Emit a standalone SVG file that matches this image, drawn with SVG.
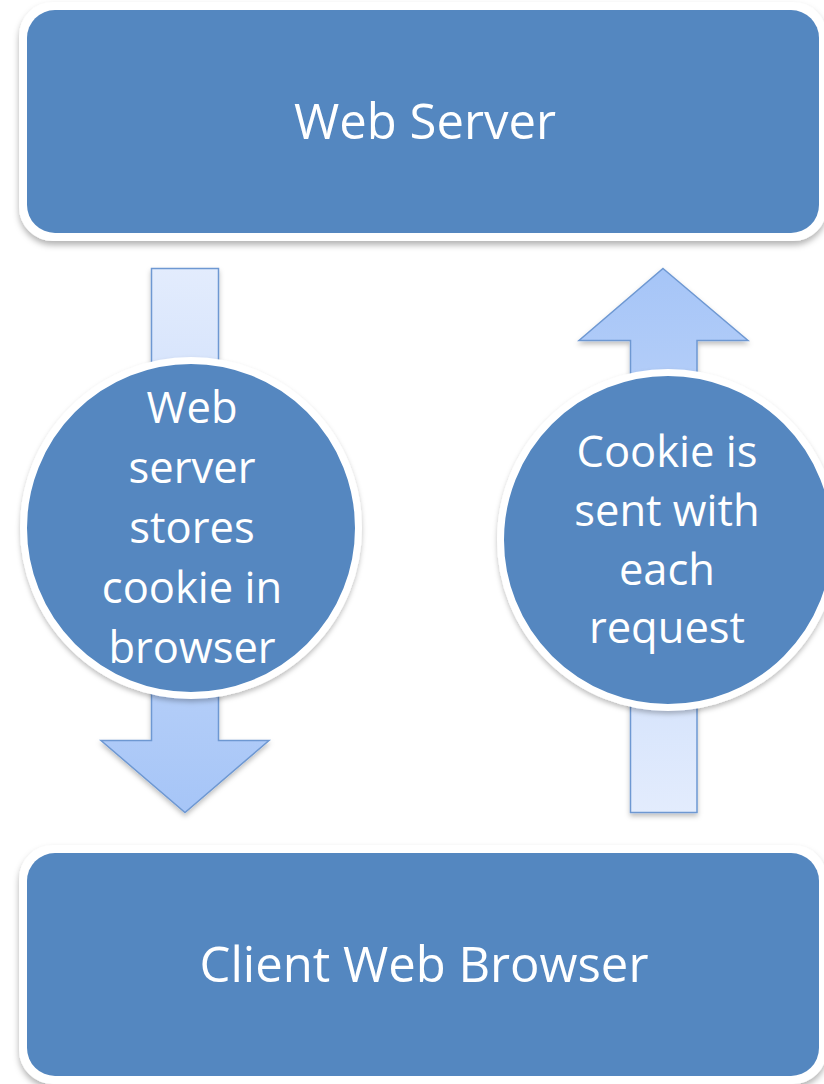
<svg xmlns="http://www.w3.org/2000/svg" width="824" height="1084" viewBox="0 0 824 1084">
  <defs>
    <style>
      .frame { fill: #ffffff; }
      .panel { fill: #5487c0; }
      .label { font-family: "Open Sans", "Noto Sans", "Liberation Sans", sans-serif; fill: #ffffff; text-anchor: middle; }
      .big { font-size: 49px; }
      .small { font-size: 43.5px; }
      .ring { fill: #5487c0; stroke: #ffffff; stroke-width: 7; }
      .arrow { stroke: #6e98d2; stroke-width: 1.5; stroke-linejoin: miter; }
    </style>
    <filter id="shadow" x="-10%" y="-10%" width="120%" height="130%">
      <feDropShadow dx="0" dy="4" stdDeviation="3" flood-color="#000000" flood-opacity="0.3"/>
    </filter>
    <filter id="softShadow" x="-20%" y="-10%" width="140%" height="130%">
      <feDropShadow dx="0" dy="3" stdDeviation="2.5" flood-color="#000000" flood-opacity="0.25"/>
    </filter>
    <!-- pale at the tail, stronger blue at the head -->
    <linearGradient id="downFill" gradientUnits="userSpaceOnUse" x1="0" y1="268" x2="0" y2="812">
      <stop offset="0" stop-color="#e3ecfd"/>
      <stop offset="1" stop-color="#a6c5f7"/>
    </linearGradient>
    <linearGradient id="upFill" gradientUnits="userSpaceOnUse" x1="0" y1="812" x2="0" y2="268">
      <stop offset="0" stop-color="#e3ecfd"/>
      <stop offset="1" stop-color="#a6c5f7"/>
    </linearGradient>
  </defs>

  <rect width="824" height="1084" fill="#ffffff"/>

  <!-- flow arrows -->
  <g id="connectors">
    <path id="arrow-down" class="arrow" fill="url(#downFill)" filter="url(#softShadow)"
          d="M151.5 268.5 H218.5 V740.5 H269 L185 812.5 L101 740.5 H151.5 Z"/>
    <path id="arrow-up" class="arrow" fill="url(#upFill)" filter="url(#softShadow)"
          d="M663 268.5 L748 340.5 H697 V812.5 H630.5 V340.5 H579 Z"/>
  </g>

  <!-- server box -->
  <g id="web-server">
    <rect class="frame" x="19" y="2" width="808" height="239" rx="34" filter="url(#shadow)"/>
    <rect class="panel" x="27" y="10" width="792" height="223" rx="28"/>
    <text class="label big" x="425" y="139">Web Server</text>
  </g>

  <!-- client box -->
  <g id="client-browser">
    <rect class="frame" x="19" y="845" width="808" height="239" rx="34" filter="url(#shadow)"/>
    <rect class="panel" x="27" y="853" width="792" height="223" rx="28"/>
    <text class="label big" x="424" y="982">Client Web Browser</text>
  </g>

  <!-- response step -->
  <g id="store-cookie">
    <circle class="ring" cx="191" cy="528" r="167.5" filter="url(#softShadow)"/>
    <text class="label small" x="192" y="423">Web</text>
    <text class="label small" x="192" y="483">server</text>
    <text class="label small" x="192" y="543">stores</text>
    <text class="label small" x="192" y="603">cookie in</text>
    <text class="label small" x="192" y="663">browser</text>
  </g>

  <!-- request step -->
  <g id="send-cookie">
    <circle class="ring" cx="668" cy="540" r="167.5" filter="url(#softShadow)"/>
    <text class="label small" x="667" y="467">Cookie is</text>
    <text class="label small" x="667" y="526">sent with</text>
    <text class="label small" x="667" y="585">each</text>
    <text class="label small" x="667" y="643">request</text>
  </g>
</svg>
